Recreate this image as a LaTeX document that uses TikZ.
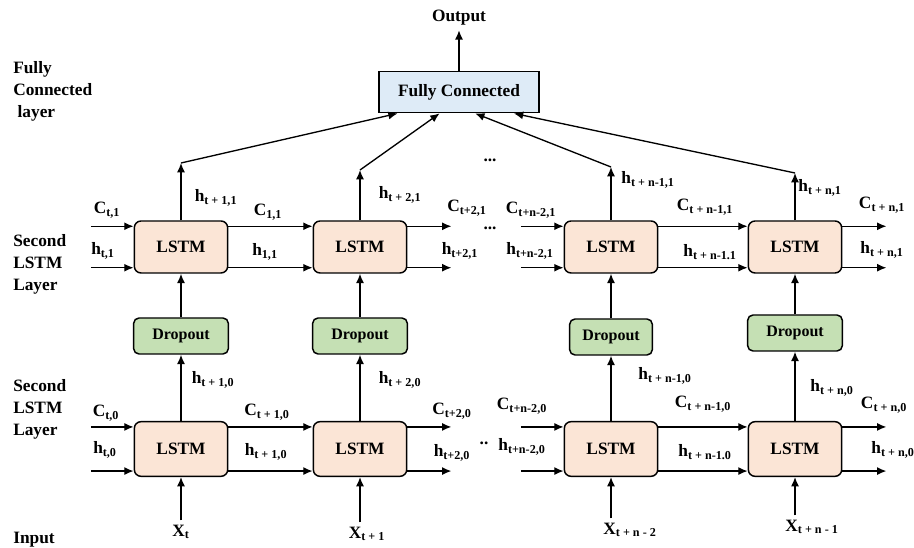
\documentclass[tikz,border=0pt]{standalone}
\usepackage{fontspec}
\setmainfont{LiberationSerif}[Extension=.ttf, UprightFont=*-Regular, BoldFont=*-Bold, ItalicFont=*-Italic, BoldItalicFont=*-BoldItalic]
\usetikzlibrary{arrows.meta, positioning, calc}
\definecolor{lstmfill}{RGB}{251, 229, 214}
\definecolor{dropfill}{RGB}{197, 224, 180}
\definecolor{fcfill}{RGB}{222, 235, 247}
\newcommand{\lab}[2]{\textbf{#1}\textsubscript{\textbf{#2}}}

\begin{document}
\begin{tikzpicture}[x=0.75pt, y=-0.75pt,
        font=\fontsize{13}{16.5}\selectfont\bfseries,
        lstm/.style={rectangle, rounded corners=5pt, draw, line width=1.1pt, fill=lstmfill, minimum width=70pt, minimum height=39pt, inner sep=0pt},
        dropbox/.style={rectangle, rounded corners=4pt, draw, line width=1.1pt, fill=dropfill, minimum width=71pt, minimum height=27pt, inner sep=0pt, font=\fontsize{12}{14}\selectfont\bfseries},
        fcbox/.style={rectangle, draw, line width=1.1pt, fill=fcfill, minimum width=120pt, minimum height=31pt},
        lbl/.style={inner sep=1pt},
        side/.style={align=left, anchor=west, inner sep=0pt},
        arr/.style={-{Latex[length=7pt,width=6pt]}, line width=1pt}
    ]
    \useasboundingbox (0,0) rectangle (914,548);

    % output layer
    \node[fcbox] (fc) at (459,92) {Fully Connected};
    \node (out) at (459,18) {Output};
    \draw[arr] (fc) -- (out);

    % left captions
    \node[side] (capfc) at (13,91) {Fully\\Connected\\\ layer};
    \node[side] (capup) at (13,264) {Second\\LSTM\\Layer};
    \node[side] (caplo) at (13,409) {Second\\LSTM\\Layer};
    \node[side] (capin) at (13,540) {Input};

    % cells
    \foreach \n/\x in {u1/181, u2/360, u3/611, u4/795}
        \node[lstm] (\n) at (\x,247) {LSTM};
    \foreach \n/\x in {b1/181, b2/360, b3/611, b4/795}
        \node[lstm, minimum height=41pt] (\n) at (\x,449) {LSTM};
    \node[dropbox] (d1) at (181,336) {Dropout};
    \node[dropbox] (d2) at (360,336) {Dropout};
    \node[dropbox, minimum width=62pt] (d3) at (611,337) {Dropout};
    \node[dropbox] (d4) at (795,333) {Dropout};

    % inputs
    \node (x1) at (181,532) {\lab{X}{t}};
    \node (x2) at (367,534) {\lab{X}{t + 1}};
    \node (x3) at (630,530) {\lab{X}{t + n - 2}};
    \node (x4) at (812,527) {\lab{X}{t + n - 1}};

    % bends above the upper cells
    \coordinate (t1) at (181,163);
    \coordinate (t2) at (360,170);
    \coordinate (t3) at (611,167);
    \coordinate (t4) at (795,173);
    \coordinate (f1) at ($(fc.south west)!0.12!(fc.south east)$);
    \coordinate (f2) at ($(fc.south west)!0.38!(fc.south east)$);
    \coordinate (f3) at ($(fc.south west)!0.60!(fc.south east)$);
    \coordinate (f4) at ($(fc.south west)!0.84!(fc.south east)$);

    \foreach \i in {1,2,3,4} {
        \draw[arr] (x\i.north -| b\i) -- (b\i);
        \draw[arr] (b\i) -- (d\i);
        \draw[arr] (d\i) -- (u\i);
        \draw[arr] (u\i) -- (t\i);
        \draw[arr] (t\i) -- (f\i);
    }

    % recurrent links
    \foreach \a/\b in {u1/u2, u3/u4, b1/b2, b3/b4} {
        \draw[arr] ([yshift=-4.5pt]\a.north east) -- ([yshift=-4.5pt]\b.north west);
        \draw[arr] ([yshift=4.5pt]\a.south east) -- ([yshift=4.5pt]\b.south west);
    }
    \foreach \n in {u1, u3, b1, b3} {
        \draw[arr] ([xshift=-32pt, yshift=-4.5pt]\n.north west) -- ([yshift=-4.5pt]\n.north west);
        \draw[arr] ([xshift=-32pt, yshift=4.5pt]\n.south west) -- ([yshift=4.5pt]\n.south west);
    }
    \foreach \n in {u2, u4, b2, b4} {
        \draw[arr] ([yshift=-4.5pt]\n.north east) -- ([xshift=33pt, yshift=-4.5pt]\n.north east);
        \draw[arr] ([yshift=4.5pt]\n.south east) -- ([xshift=33pt, yshift=4.5pt]\n.south east);
    }

    % upper layer labels
    \node[lbl] (cu0) at (107,210) {\lab{C}{t,1}};
    \node[lbl] (hu0) at (103,251) {\lab{h}{t,1}};
    \node[lbl] (cu1) at (268,212) {\lab{C}{1,1}};
    \node[lbl] (hu1) at (265,252) {\lab{h}{1,1}};
    \node[lbl] (cu2) at (467,208) {\lab{C}{t+2,1}};
    \node[lbl] (hu2) at (460,251) {\lab{h}{t+2,1}};
    \node[lbl] (cu3) at (531,210) {\lab{C}{t+n-2,1}};
    \node[lbl] (hu3) at (530,251) {\lab{h}{t+n-2,1}};
    \node[lbl] (cu4) at (705,207) {\lab{C}{t + n-1,1}};
    \node[lbl] (hu4) at (710,252) {\lab{h}{t + n-1.1}};
    \node[lbl] (cu5) at (882,205) {\lab{C}{t + n,1}};
    \node[lbl] (hu5) at (882,250) {\lab{h}{t + n,1}};
    \node[lbl] (vu1) at (216,198) {\lab{h}{t + 1,1}};
    \node[lbl] (vu2) at (400,195) {\lab{h}{t + 2,1}};
    \node[lbl] (vu3) at (648,180) {\lab{h}{t + n-1,1}};
    \node[lbl] (vu4) at (820,188) {\lab{h}{t + n,1}};

    % lower layer labels
    \node[lbl] (cl0) at (106,413) {\lab{C}{t,0}};
    \node[lbl] (hl0) at (105,450) {\lab{h}{t,0}};
    \node[lbl] (cl1) at (267,412) {\lab{C}{t + 1,0}};
    \node[lbl] (hl1) at (266,452) {\lab{h}{t + 1,0}};
    \node[lbl] (cl2) at (452,411) {\lab{C}{t+2,0}};
    \node[lbl] (hl2) at (452,453) {\lab{h}{t+2,0}};
    \node[lbl] (cl3) at (522,406) {\lab{C}{t+n-2,0}};
    \node[lbl] (hl3) at (522,447) {\lab{h}{t+n-2,0}};
    \node[lbl] (cl4) at (703,404) {\lab{C}{t + n-1,0}};
    \node[lbl] (hl4) at (705,452) {\lab{h}{t + n-1.0}};
    \node[lbl] (cl5) at (884,405) {\lab{C}{t + n,0}};
    \node[lbl] (hl5) at (893,450) {\lab{h}{t + n,0}};
    \node[lbl] (vl1) at (213,380) {\lab{h}{t + 1,0}};
    \node[lbl] (vl2) at (400,380) {\lab{h}{t + 2,0}};
    \node[lbl] (vl3) at (665,376) {\lab{h}{t + n-1,0}};
    \node[lbl] (vl4) at (832,388) {\lab{h}{t + n,0}};

    % gaps in the sequence
    \node (dots1) at (490,160) {...};
    \node (dots2) at (490,228) {...};
    \node (dots3) at (484,443) {..};
\end{tikzpicture}
\end{document}
